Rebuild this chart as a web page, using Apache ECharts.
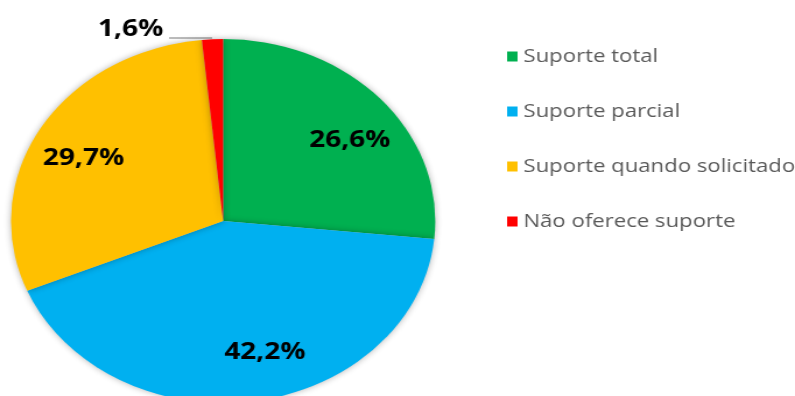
<!DOCTYPE html>
<html>
<head>
<meta charset="utf-8">
<script src="https://cdn.jsdelivr.net/npm/echarts@6/dist/echarts.min.js"></script>
<style>
  html, body { margin: 0; padding: 0; overflow: hidden; background: #fff; }
  /* the reference is stretched sideways, so the chart is drawn narrower and scaled */
  #main { width: 682px; height: 396px; transform: scaleX(1.1657); transform-origin: 0 0; }
</style>
</head>
<body>
<div id="main"></div>
<script>
var chartDom = document.getElementById('main');
var myChart = echarts.init(chartDom);
var option;

var categories = ['Suporte total', 'Suporte parcial', 'Suporte quando solicitado', 'Não oferece suporte'];
var values = [26.6, 42.2, 29.7, 1.6];
var colors = ['#00B050', '#00B0F0', '#FFC000', '#FF0000'];

// label nudges away from the default "inside" spot
var labelShift = [[39, -18], [22, 38], [-39, -15]];

var pieData = categories.map(function (name, i) {
  var item = { name: name, value: values[i], itemStyle: { color: colors[i] } };
  if (i === 3) {
    item.label = { position: 'outside' };
    item.labelLine = { show: true };
  }
  return item;
});

option = {
  animation: false,
  legend: {
    orient: 'vertical',
    left: 430,
    top: 42,
    itemWidth: 9,
    itemHeight: 10,
    itemGap: 36,
    icon: 'rect',
    textStyle: { fontFamily: 'Open Sans', fontSize: 19, color: '#595959' },
    data: categories
  },
  series: [
    {
      type: 'pie',
      center: [191.4, 221],
      radius: [0, 182],
      startAngle: 90,
      clockwise: true,
      avoidLabelOverlap: false,
      itemStyle: {
        shadowBlur: 6,
        shadowColor: 'rgba(0,0,0,0.3)'
      },
      label: {
        show: true,
        position: 'inside',
        fontFamily: 'Open Sans',
        fontWeight: 'bold',
        fontSize: 24,
        color: '#000',
        formatter: function (p) {
          return p.value.toFixed(1).replace('.', ',') + '%';
        }
      },
      labelLine: {
        show: false,
        lineStyle: { color: '#a6a6a6', width: 1.5 }
      },
      labelLayout: function (params) {
        var i = params.dataIndex;
        if (i < 3) {
          return { dx: labelShift[i][0], dy: labelShift[i][1] };
        }
        return {
          x: 140, y: 29, align: 'right', verticalAlign: 'middle',
          labelLinePoints: [[182, 38], [163, 38], [145, 38]]
        };
      },
      data: pieData
    }
  ]
};

option && myChart.setOption(option);
</script>
</body>
</html>
